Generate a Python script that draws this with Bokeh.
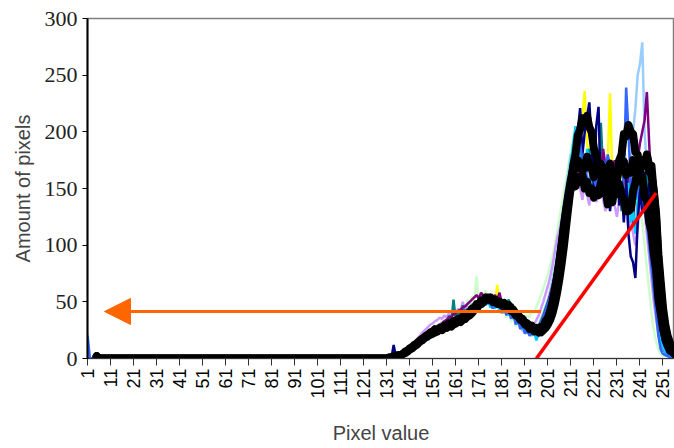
from bokeh.plotting import figure
from bokeh.models import Range1d, FixedTicker, Arrow, NormalHead
from bokeh.embed import file_html
from bokeh.resources import INLINE
import math

# ---------------- data ----------------
N_BINS = 256
X_TICKS = list(range(1, 257, 10))
Y_TICKS = [0, 50, 100, 150, 200, 250, 300]
TAIL_START = 131  # values below are listed for bins 131..256

BLK1 = [0,0,1,1,2,2,3,4,5,6,
        8,9,11,12,14,16,17,19,20,21,
        22,23,24,26,25,27,28,29,28,30,
        31,33,32,34,35,37,38,40,43,44,
        47,48,50,52,52,53,50,51,48,48,
        49,46,47,44,45,41,40,37,36,33,
        32,29,28,26,26,24,24,23,25,27,
        30,34,40,48,58,70,84,100,118,136,
        152,170,180,197,202,212,208,214,204,200,
        185,180,165,162,152,160,158,158,148,150,
        145,154,144,140,130,130,132,148,155,168,
        166,175,170,175,165,162,148,128,92,68,
        45,30,20,14,10,6]
BLK2 = [0,1,1,2,2,3,3,4,5,7,
        8,10,11,13,15,16,18,19,21,22,
        23,25,24,26,26,28,27,29,30,32,
        31,34,33,36,35,39,39,43,43,47,
        47,51,50,53,52,53,50,51,49,50,
        47,48,45,46,42,42,38,38,34,34,
        30,30,26,27,24,25,23,26,26,31,
        34,40,48,58,70,85,100,116,132,146,
        158,168,168,175,168,172,168,178,170,168,
        160,170,166,172,160,168,166,172,158,162,
        158,170,168,174,162,168,164,175,166,170,
        164,175,172,180,170,170,146,124,86,62,
        40,26,18,12,8,5]
BLK3 = [0,0,1,1,2,3,3,4,6,7,
        9,10,12,13,15,17,18,20,21,23,
        24,26,25,27,26,29,28,31,30,33,
        32,35,34,37,36,40,40,44,44,48,
        48,51,51,54,53,54,51,52,49,50,
        47,49,46,47,43,43,39,39,35,35,
        31,31,28,29,26,27,25,28,28,33,
        36,42,50,60,72,86,102,118,132,144,
        150,156,152,160,156,162,150,156,146,150,
        142,148,144,155,146,150,136,142,138,152,
        158,175,180,198,196,206,200,198,182,180,
        162,160,142,140,120,112,92,78,52,40,
        26,18,12,8,6,4]

NAVY = [0,2,0,12,1,3,2,5,4,8,
        6,11,9,15,12,18,14,21,17,25,
        20,26,22,29,24,31,26,33,28,35,
        30,36,31,38,34,41,36,44,40,48,
        45,52,47,55,50,56,48,54,46,52,
        45,50,43,48,40,45,36,41,32,38,
        28,34,24,30,22,27,20,26,23,31,
        28,42,38,58,55,80,78,110,105,140,
        135,175,160,200,221,180,200,213,226,190,
        150,205,222,145,175,140,160,130,150,140,
        165,135,150,120,160,110,90,85,71,120,
        150,130,165,140,155,120,100,70,40,25,
        15,10,5,4,2,1]
YELLOW = [0,0,1,0,2,4,3,6,5,8,
          10,8,12,14,11,17,15,20,22,19,
          25,22,28,24,27,30,26,32,29,33,
          36,31,38,34,40,37,44,39,46,42,
          48,45,52,49,56,50,54,48,65,46,
          50,44,47,42,45,38,42,34,36,30,
          33,28,30,25,27,22,28,30,34,40,
          45,52,60,66,78,90,104,120,134,150,
          166,180,190,200,185,215,236,190,175,200,
          170,160,180,155,165,150,175,234,160,140,
          150,170,140,160,155,170,150,145,135,160,
          165,150,170,160,140,120,85,60,40,24,
          14,8,5,3,2,1]
TEAL = [0,1,0,2,1,4,2,6,4,9,
        7,12,9,15,11,18,13,21,16,24,
        19,27,22,30,25,32,28,38,30,52,
        33,42,35,47,38,44,41,48,43,50,
        46,54,49,56,52,50,55,48,53,45,
        50,44,47,52,42,46,38,40,32,35,
        28,26,24,22,26,24,28,33,38,44,
        50,56,64,74,86,100,114,128,142,156,
        170,178,186,180,192,176,170,165,185,175,
        160,172,150,208,165,155,145,160,140,150,
        145,160,130,150,140,165,150,135,150,165,
        170,160,150,165,140,110,80,55,32,18,
        10,6,4,2,1,0]
SKY = [0,1,2,1,3,2,5,4,7,6,
       9,12,10,14,16,13,19,17,22,20,
       24,21,27,23,29,25,31,27,33,30,
       35,32,38,35,40,37,43,40,46,44,
       49,46,50,47,52,45,48,44,50,42,
       46,40,44,38,42,35,38,30,33,26,
       28,22,25,20,24,16,22,26,30,36,
       42,50,58,68,80,94,108,124,140,158,
       174,190,205,195,180,170,160,185,172,150,
       165,145,158,170,150,140,162,148,135,155,
       160,140,150,130,145,155,120,130,110,140,
       150,165,145,130,115,95,75,50,30,16,
       10,6,3,2,1,0]
PALE = [0,0,1,2,2,3,4,4,6,7,
        9,10,13,12,15,18,16,20,23,21,
        26,23,28,25,30,27,33,29,35,31,
        37,34,40,36,42,39,45,41,48,44,
        50,46,52,48,54,49,56,47,52,45,
        48,42,46,40,44,36,40,32,34,24,
        30,25,28,22,27,24,30,35,40,46,
        52,60,70,80,92,106,120,136,152,166,
        180,168,190,175,162,178,150,165,145,170,
        155,148,160,170,150,165,175,160,140,155,
        145,165,180,190,170,150,175,200,220,250,
        260,279,200,170,145,120,95,65,38,20,
        12,7,4,2,1,0]
PURPLE = [0,0,1,1,2,3,3,5,6,7,
          9,11,12,14,16,17,19,21,22,24,
          25,27,28,30,31,33,34,36,37,39,
          40,42,43,45,46,48,50,52,54,56,
          53,58,55,52,57,51,54,56,52,58,
          48,52,45,49,42,46,38,42,34,36,
          30,28,26,24,22,25,28,32,36,42,
          48,56,64,74,86,98,112,126,140,154,
          168,180,170,160,175,165,155,170,180,160,
          150,165,175,160,185,170,150,145,160,175,
          165,150,140,160,175,150,140,120,150,175,
          190,200,210,235,190,150,100,65,35,18,
          10,6,3,2,1,0]
LAVENDER = [0,1,1,2,3,3,5,6,7,9,
            11,13,15,17,19,22,24,26,28,30,
            31,33,34,36,35,38,36,40,37,42,
            39,44,41,50,43,46,44,48,45,50,
            47,52,48,54,50,53,49,51,47,50,
            44,48,40,45,36,40,32,34,26,28,
            22,25,24,28,30,34,38,44,50,57,
            64,72,82,94,106,113,124,138,150,162,
            172,180,170,160,150,140,155,145,135,160,
            150,138,145,155,140,130,145,160,150,135,
            125,140,155,145,130,115,125,110,100,115,
            135,150,130,110,90,70,50,35,22,12,
            8,5,3,2,1,0]
BLUE = [0,0,1,1,2,2,4,5,6,8,
        10,11,13,14,16,17,19,20,22,23,
        24,26,27,28,29,30,31,32,33,35,
        36,37,38,40,41,42,44,45,46,48,
        42,50,46,52,48,53,44,51,46,50,
        40,47,38,44,35,41,30,36,26,30,
        22,26,20,24,22,26,28,32,36,42,
        48,54,62,72,84,96,110,124,138,150,
        165,180,195,205,190,175,165,160,150,170,
        160,150,170,160,175,165,180,170,160,165,
        150,160,140,165,239,200,150,160,140,150,
        165,150,130,120,100,80,60,40,20,8,
        4,3,2,1,0,0]
LGREEN = [0,0,0,1,1,2,3,4,5,6,
          8,9,11,12,14,16,18,20,22,24,
          26,22,30,25,34,28,38,30,42,36,
          40,44,38,48,42,52,46,55,50,73,
          48,58,52,60,50,56,48,54,44,50,
          40,46,36,42,32,38,28,34,30,36,
          32,38,36,42,40,46,50,56,62,68,
          74,82,90,100,112,124,136,148,160,172,
          184,195,200,190,175,165,180,170,160,175,
          165,155,170,180,160,150,165,175,155,140,
          150,165,175,160,150,140,155,165,150,140,
          130,120,100,80,60,40,25,15,8,4,
          2,1,0,0,0,0]

# first bins of the coloured series: all zero except the first bin
PALE_HEAD = [22, 0]
BLUE_HEAD = [20, 0]
BLACK_HEAD_START = 5   # the black series start at bin 5
BLACK_HEAD = [2]

RED_X = [196, 248]
RED_Y = [0, 146]
ARROW_X = [198, 8.4]
ARROW_Y = [41.5, 41.5]

COLOURED = [
    ("#CCFFCC", LGREEN, None),
    ("#FFFF00", YELLOW, None),
    ("#CC99FF", LAVENDER, None),
    ("#99CCFF", PALE, PALE_HEAD),
    ("#008080", TEAL, None),
    ("#800080", PURPLE, None),
    ("#00CCFF", SKY, None),
    ("#000080", NAVY, None),
    ("#3366FF", BLUE, BLUE_HEAD),
]

# ---------------- figure ----------------
p = figure(width=674, height=448, output_backend="svg", toolbar_location=None,
           x_range=Range1d(1, 256), y_range=Range1d(0, 300))
p.min_border_left = 87
p.min_border_right = 0
p.min_border_top = 18
p.min_border_bottom = 90
p.background_fill_color = "white"
p.border_fill_color = "white"
p.outline_line_color = "#808080"
p.outline_line_width = 1.5
p.xgrid.visible = False
p.ygrid.visible = False

xs_all = list(range(1, N_BINS + 1))
lead = TAIL_START - 1

for col, tail, head in COLOURED:
    ys = [0] * lead + tail
    if head:
        ys[:len(head)] = head
    p.line(xs_all, ys, line_color=col, line_width=2.5)

for tail in (BLK1, BLK2, BLK3):
    xs = list(range(BLACK_HEAD_START, N_BINS + 1))
    ys = BLACK_HEAD + [0] * (lead - BLACK_HEAD_START) + tail
    p.line(xs, ys, line_color="black", line_width=8, line_cap="round", line_join="round")

p.line(RED_X, RED_Y, line_color="#FF0000", line_width=3.5)

p.add_layout(Arrow(end=NormalHead(size=26, fill_color="#FF6600", line_color="#FF6600"),
                   x_start=ARROW_X[0], y_start=ARROW_Y[0], x_end=ARROW_X[1], y_end=ARROW_Y[1],
                   line_color="#FF6600", line_width=3))

# axes
p.xaxis.ticker = FixedTicker(ticks=X_TICKS)
p.xaxis.major_label_orientation = math.pi / 2
p.xaxis.major_label_text_font = "Liberation Sans"
p.xaxis.major_label_text_font_size = "18px"
p.xaxis.major_label_text_color = "black"
p.xaxis.major_label_standoff = 3
p.xaxis.major_tick_in = 0
p.xaxis.major_tick_out = 7
p.xaxis.minor_tick_line_color = None
p.xaxis.axis_line_color = "#333333"
p.xaxis.major_tick_line_color = "#333333"
p.xaxis.axis_label = "Pixel value"
p.xaxis.axis_label_text_font = "Liberation Sans"
p.xaxis.axis_label_text_font_style = "normal"
p.xaxis.axis_label_text_font_size = "20px"
p.xaxis.axis_label_standoff = 20

p.yaxis.ticker = FixedTicker(ticks=Y_TICKS)
p.yaxis.major_label_text_font = "Liberation Serif"
p.yaxis.major_label_text_font_size = "22px"
p.yaxis.major_label_text_color = "#222222"
p.yaxis.major_label_standoff = 5
p.yaxis.major_tick_in = 0
p.yaxis.major_tick_out = 5
p.yaxis.minor_tick_line_color = None
p.yaxis.axis_line_color = "black"
p.yaxis.axis_line_width = 2
p.yaxis.major_tick_line_color = "black"
p.yaxis.axis_label = "Amount of pixels"
p.yaxis.axis_label_text_font = "Liberation Sans"
p.yaxis.axis_label_text_font_style = "normal"
p.yaxis.axis_label_text_font_size = "20px"
p.yaxis.axis_label_standoff = 8

open("out.html", "w").write(file_html(p, INLINE))
